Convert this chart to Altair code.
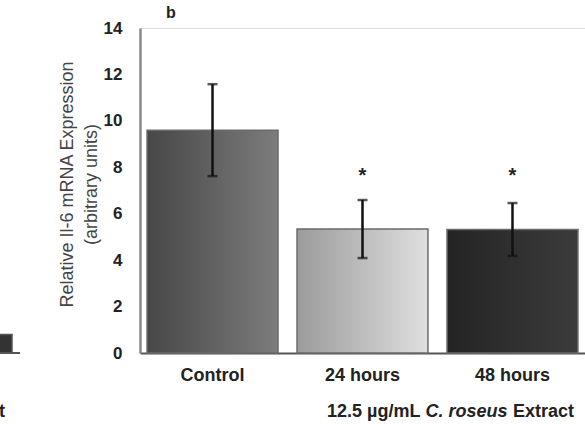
import altair as alt
import pandas as pd

# ---------------- data ----------------
groups = ["Control", "24 hours", "48 hours"]
means = [9.6, 5.34, 5.32]
errors = [1.98, 1.25, 1.14]
stars = ["", "*", "*"]
star_level = [7.85, 7.85, 7.85]
y_ticks = [0, 2, 4, 6, 8, 10, 12, 14]
y_title = ["Relative Il-6 mRNA Expression", "(arbitrary units)"]
panel_label = ["b"]
group_caption = ["12.5 µg/mL ", "C. roseus", " Extract"]
# fragment of neighbouring panel (a), cropped at left edge
panel_a_last = [0.8]
panel_a_caption_tail = ["t"]

# ---------------- styles ----------------
FONT = "Liberation Sans"
grad_left = ["#474747", "#9b9b9b", "#242424"]
grad_right = ["#7c7c7c", "#dfdfdf", "#3b3b3b"]

df = pd.DataFrame({
    "group": groups,
    "mean": means,
    "lo": [m - e for m, e in zip(means, errors)],
    "hi": [m + e for m, e in zip(means, errors)],
    "star": stars,
    "star_y": star_level,
})

x_enc = alt.X(
    "group:N",
    sort=groups,
    scale=alt.Scale(domain=groups, paddingInner=0.127, paddingOuter=0.047),
    axis=alt.Axis(
        title=None, labelAngle=0, labelFont=FONT, labelFontSize=18,
        labelFontWeight="bold", labelColor="#222", ticks=False,
        domainColor="#555", domainWidth=2, labelPadding=13,
    ),
)
y_enc = alt.Y(
    "mean:Q",
    scale=alt.Scale(domain=[0, 14]),
    axis=alt.Axis(
        values=y_ticks, grid=False, ticks=False, labelFont=FONT,
        labelFontSize=17, labelFontWeight="bold", labelColor="#222",
        labelPadding=18, domainColor="#888", domainWidth=2.5,
        title=y_title, titleFont=FONT, titleFontWeight="normal",
        titleFontSize=18, titleColor="#444", titleLineHeight=24,
        titleX=-64, titleY=156,
    ),
)

base = alt.Chart(df)
layers = []
for i, g in enumerate(groups):
    grad = {
        "gradient": "linear",
        "x1": 0, "x2": 1, "y1": 0, "y2": 0,
        "stops": [
            {"offset": 0, "color": grad_left[i]},
            {"offset": 1, "color": grad_right[i]},
        ],
    }
    layers.append(
        base.transform_filter(alt.datum.group == g)
        .mark_bar(fill=grad, stroke="#6a6a6a", strokeWidth=1.5)
        .encode(x=x_enc, y=y_enc)
    )

err_rule = base.mark_rule(color="#111", strokeWidth=2.5).encode(
    x=x_enc, y=alt.Y("lo:Q"), y2="hi:Q"
)
cap_lo = base.mark_tick(color="#111", size=10, thickness=2.5).encode(
    x=x_enc, y=alt.Y("lo:Q")
)
cap_hi = base.mark_tick(color="#111", size=10, thickness=2.5).encode(
    x=x_enc, y=alt.Y("hi:Q")
)
star_txt = base.transform_filter(alt.datum.star != "").mark_text(
    font=FONT, fontSize=20, fontWeight="bold", color="#222", baseline="middle", dy=5
).encode(x=x_enc, y=alt.Y("star_y:Q"), text="star:N")

lab = alt.Chart(pd.DataFrame({"t": panel_label})).mark_text(
    font=FONT, fontSize=16, fontWeight="bold", color="#222", align="left", baseline="middle"
).encode(x=alt.value(26), y=alt.value(-15), text="t:N")

cap_df = pd.DataFrame({"t": group_caption, "px": [187, 285.5, 373]})
cap_norm = alt.Chart(cap_df.iloc[[0, 2]]).mark_text(
    font=FONT, fontSize=18, fontWeight="bold", color="#222", align="left", baseline="middle"
).encode(x=alt.X("px:Q", scale=None), y=alt.value(384), text="t:N")
cap_ital = alt.Chart(cap_df.iloc[[1]]).mark_text(
    font=FONT, fontSize=18, fontWeight="bold", fontStyle="italic", color="#222",
    align="left", baseline="middle"
).encode(x=alt.X("px:Q", scale=None), y=alt.value(384), text="t:N")

frag_bar = alt.Chart(pd.DataFrame({"v": panel_a_last})).mark_bar(
    fill="#333", stroke="#555", strokeWidth=1.5
).encode(x=alt.value(-141), x2=alt.value(-128), y=alt.Y("v:Q"), y2=alt.datum(0))
frag_axis = alt.Chart(pd.DataFrame({"v": [0]})).mark_rule(color="#555", strokeWidth=2).encode(
    x=alt.value(-141), x2=alt.value(-120), y=alt.value(325)
)
frag_txt = alt.Chart(pd.DataFrame({"t": panel_a_caption_tail})).mark_text(
    font=FONT, fontSize=18, fontWeight="bold", color="#222", align="left", baseline="middle"
).encode(x=alt.value(-141), y=alt.value(384), text="t:N")

chart = alt.layer(
    *layers, err_rule, cap_lo, cap_hi, star_txt, lab, cap_norm, cap_ital,
    frag_bar, frag_axis, frag_txt,
).properties(
    width=445, height=325,
    autosize=alt.AutoSizeParams(type="none"),
    padding={"left": 140, "top": 28, "right": 0, "bottom": 71},
).configure_view(stroke=None).configure(font=FONT)

chart.save("out.html", embed_options={"renderer": "svg", "actions": False})
